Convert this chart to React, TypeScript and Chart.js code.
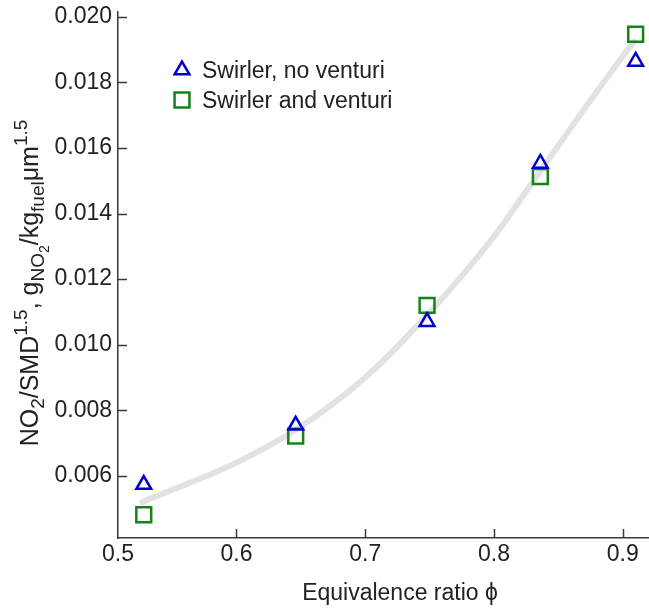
import React, { useEffect, useRef } from 'react';
import { Chart, registerables } from 'chart.js';

Chart.register(...registerables);

// ---- data ----
const PHI = [0.528, 0.646, 0.748, 0.836, 0.91];
const NO2_NO_VENTURI = [0.00573, 0.00754, 0.0107, 0.01553, 0.01864];
const NO2_VENTURI = [0.00481, 0.00721, 0.0112, 0.01513, 0.01947];
const FIT_PHI = [0.527, 0.6, 0.646, 0.7, 0.748, 0.8, 0.836, 0.9, 0.909];
const FIT_NO2 = [0.0052, 0.0064, 0.0074, 0.009, 0.0109, 0.0133, 0.0153, 0.0188, 0.01925];
const SERIES_LABELS = ['Swirler, no venturi', 'Swirler and venturi'];
const X_MIN = 0.508;
const X_MIN_LABEL = '0.5';
const X_MAX = 0.946;
const X_TICKS = [0.6, 0.7, 0.8, 0.9];
const Y_MIN = 0.0041;
const Y_MAX = 0.02015;
const Y_TICKS = [0.006, 0.008, 0.01, 0.012, 0.014, 0.016, 0.018, 0.02];
const X_TITLE = 'Equivalence ratio \u03D5';
// y title segments: [text, level] level 0 normal, -1 subscript, -2 sub-subscript, 1 superscript
const Y_TITLE: [string, number][] = [
  ['NO', 0], ['2', -1], ['/SMD', 0], ['1.5', 1], [', g', 0], ['NO', -1], ['2', -2],
  ['/kg', 0], ['fuel', -1], ['\u03BCm', 0], ['1.5', 1],
];

const FONT = "'Liberation Sans', Arial, Helvetica, sans-serif";
const TEXT = '#222222';
const AXIS = '#3a3a3a';
const BLUE = '#0000cc';
const GREEN = '#178217';
const FIT_COLOR = '#e2e2e2';
const FS = 23;

function drawMarker(ctx: CanvasRenderingContext2D, style: string, x: number, y: number, r: number, color: string, lw: number) {
  ctx.save();
  ctx.strokeStyle = color;
  ctx.lineWidth = lw;
  ctx.beginPath();
  if (style === 'triangle') {
    for (let i = 0; i < 3; i++) {
      const a = (i * 2 * Math.PI) / 3;
      const px = x + Math.sin(a) * r;
      const py = y - Math.cos(a) * r;
      if (i === 0) ctx.moveTo(px, py); else ctx.lineTo(px, py);
    }
    ctx.closePath();
  } else {
    const s = r * Math.SQRT1_2;
    ctx.rect(x - s, y - s, 2 * s, 2 * s);
  }
  ctx.stroke();
  ctx.restore();
}

const decorPlugin = {
  id: 'decor',
  afterDatasetsDraw(chart: any) {
    const { ctx, chartArea, scales } = chart;
    ctx.save();
    ctx.strokeStyle = AXIS;
    ctx.lineWidth = 1.5;
    scales.x.ticks.forEach((t: any) => {
      if (t.value <= X_MIN + 1e-9) return;
      const px = Math.round(scales.x.getPixelForValue(t.value)) + 0.5;
      ctx.beginPath();
      ctx.moveTo(px, chartArea.bottom);
      ctx.lineTo(px, chartArea.bottom - 9);
      ctx.stroke();
    });
    scales.y.ticks.forEach((t: any) => {
      const py = Math.round(scales.y.getPixelForValue(t.value)) + 0.5;
      ctx.beginPath();
      ctx.moveTo(chartArea.left, py);
      ctx.lineTo(chartArea.left + 9, py);
      ctx.stroke();
    });
    ctx.restore();
  },
  afterDraw(chart: any) {
    const { ctx, chartArea } = chart;
    // legend
    ctx.save();
    const lx = chartArea.left + 64;
    const rows = [chartArea.top + 58, chartArea.top + 88];
    const styles = ['triangle', 'rect'];
    const colors = [BLUE, GREEN];
    const radii = [8.5, 10.5];
    ctx.font = `${FS}px ${FONT}`;
    ctx.fillStyle = TEXT;
    ctx.textAlign = 'left';
    ctx.textBaseline = 'alphabetic';
    SERIES_LABELS.forEach((lab, i) => {
      drawMarker(ctx, styles[i], lx, rows[i], radii[i], colors[i], 2.5);
      ctx.fillText(lab, lx + 20, rows[i] + 8);
    });
    ctx.restore();

    // y axis title with sub/superscripts
    ctx.save();
    const sizes: Record<number, number> = { 0: 25, 1: 19, [-1]: 19, [-2]: 14 };
    const shifts: Record<number, number> = { 0: 0, 1: -11, [-1]: 6, [-2]: 11 };
    let total = 0;
    Y_TITLE.forEach(([t, l]) => {
      ctx.font = `${sizes[l]}px ${FONT}`;
      total += ctx.measureText(t).width;
    });
    ctx.translate(38, 283);
    ctx.rotate(-Math.PI / 2);
    ctx.fillStyle = TEXT;
    ctx.textBaseline = 'alphabetic';
    ctx.textAlign = 'left';
    let x = -total / 2;
    Y_TITLE.forEach(([t, l]) => {
      ctx.font = `${sizes[l]}px ${FONT}`;
      ctx.fillText(t, x, shifts[l]);
      x += ctx.measureText(t).width;
    });
    ctx.restore();
  },
};

export default function App() {
  const ref = useRef<HTMLCanvasElement | null>(null);
  useEffect(() => {
    if (!ref.current) return;
    const pts = (xs: number[], ys: number[]) => xs.map((x, i) => ({ x, y: ys[i] }));
    const chart = new Chart(ref.current, {
      type: 'scatter',
      data: {
        datasets: [
          {
            label: SERIES_LABELS[0],
            data: pts(PHI, NO2_NO_VENTURI),
            pointStyle: 'triangle',
            pointRadius: 8.5,
            pointBorderWidth: 2.5,
            borderColor: BLUE,
            backgroundColor: 'rgba(0,0,0,0)',
            pointBackgroundColor: 'rgba(0,0,0,0)',
            pointBorderColor: BLUE,
          },
          {
            label: SERIES_LABELS[1],
            data: pts(PHI, NO2_VENTURI),
            pointStyle: 'rect',
            pointRadius: 10.5,
            pointBorderWidth: 2.5,
            borderColor: GREEN,
            backgroundColor: 'rgba(0,0,0,0)',
            pointBackgroundColor: 'rgba(0,0,0,0)',
            pointBorderColor: GREEN,
          },
          {
            label: 'fit',
            data: pts(FIT_PHI, FIT_NO2),
            showLine: true,
            pointRadius: 0,
            borderColor: FIT_COLOR,
            borderWidth: 6,
            cubicInterpolationMode: 'monotone',
            borderCapStyle: 'round',
            fill: false,
          } as any,
        ],
      },
      options: {
        animation: false,
        responsive: false,
        devicePixelRatio: 1,
        layout: { autoPadding: false, padding: { top: 12, right: 0, left: 0, bottom: 0 } },
        plugins: { legend: { display: false }, tooltip: { enabled: false } },
        scales: {
          x: {
            type: 'linear',
            min: X_MIN,
            max: X_MAX,
            afterBuildTicks: (s: any) => {
              s.ticks = [X_MIN, ...X_TICKS].map((v) => ({ value: v }));
            },
            afterFit: (s: any) => {
              s.height = 73;
              s.paddingLeft = 0;
              s.paddingRight = 0;
            },
            ticks: {
              autoSkip: false,
              maxRotation: 0,
              padding: 3,
              color: TEXT,
              font: { family: FONT, size: FS },
              callback: (v: any) => (Number(v) <= X_MIN + 1e-9 ? X_MIN_LABEL : Number(v).toFixed(1)),
            },
            grid: { display: false, tickLength: 0 },
            border: { display: true, color: AXIS, width: 1.5 },
            title: {
              display: true,
              text: X_TITLE,
              color: TEXT,
              font: { family: FONT, size: FS },
              padding: { top: 0, bottom: 4 },
            },
          },
          y: {
            type: 'linear',
            min: Y_MIN,
            max: Y_MAX,
            afterBuildTicks: (s: any) => {
              s.ticks = Y_TICKS.map((v) => ({ value: v }));
            },
            afterFit: (s: any) => {
              s.width = 118;
              s.paddingTop = 0;
              s.paddingBottom = 0;
            },
            ticks: {
              padding: 6,
              color: TEXT,
              font: { family: FONT, size: FS },
              callback: (v: any) => Number(v).toFixed(3),
            },
            grid: { display: false, tickLength: 0 },
            border: { display: true, color: AXIS, width: 1.5 },
          },
        },
      },
      plugins: [decorPlugin],
    });
    return () => chart.destroy();
  }, []);
  return (
    <div style={{ position: 'absolute', left: 0, top: 0, width: 649, height: 611, overflow: 'hidden', background: '#fff' }}>
      <canvas ref={ref} width={682} height={611} style={{ display: 'block' }} />
    </div>
  );
}
